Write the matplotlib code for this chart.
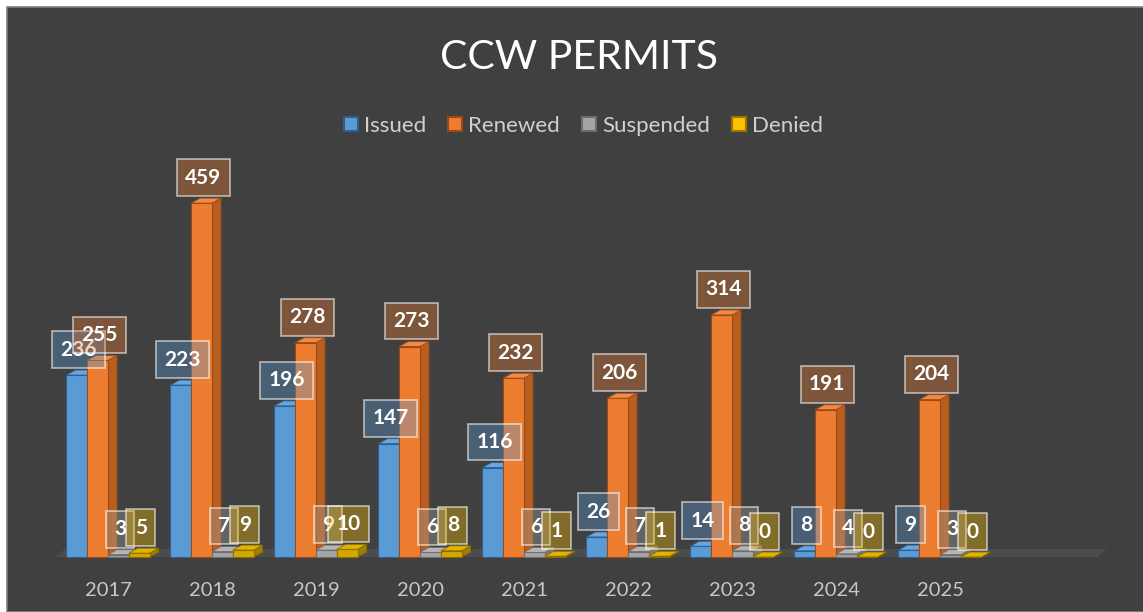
import matplotlib.pyplot as plt
from matplotlib.patches import Rectangle, Polygon, Patch

# ----------- DATA -------------
years = ["2017", "2018", "2019", "2020", "2021", "2022", "2023", "2024", "2025"]
issued = [236, 223, 196, 147, 116, 26, 14, 8, 9]
renewed = [255, 459, 278, 273, 232, 206, 314, 191, 204]
suspended = [3, 7, 9, 6, 6, 7, 8, 4, 3]
denied = [5, 9, 10, 8, 1, 1, 0, 0, 0]
series_names = ["Issued", "Renewed", "Suspended", "Denied"]

# ----------- STYLE -------------
plt.rcParams['font.family'] = ['Lato', 'DejaVu Sans']
BG = "#404040"
front_cols = ["#5B9BD5", "#ED7D31", "#A5A5A5", "#D4A700"]
side_cols = ["#3F75A8", "#B85E20", "#7A7A7A", "#A07E00"]
top_cols = ["#6AA6DD", "#F08A45", "#B5B5B5", "#E0B400"]
edge_cols = ["#2E5F8E", "#9C4A14", "#6E6E6E", "#8A6C00"]
legend_cols = ["#5B9BD5", "#ED7D31", "#A5A5A5", "#FFC000"]
legend_edges = ["#2E5F8E", "#9C4A14", "#6E6E6E", "#9C7600"]

W, H = 1143, 612
fig = plt.figure(figsize=(W / 100, H / 100), dpi=100)
fig.patch.set_facecolor("white")
ax = fig.add_axes([0, 0, 1, 1])
ax.axis("off")

# pixel -> data mapping (group spacing 104 px, 0.771 px per unit)
base_px, step_px, x0_px = 557, 104, 108
ppu = 0.771
ax.set_xlim((0 - x0_px) / step_px, (W - x0_px) / step_px)
ax.set_ylim((base_px - H) / ppu, base_px / ppu)

# chart background with border
ax.add_patch(Rectangle((7 / W, 0), 1.0, 1 - 7 / H, transform=ax.transAxes,
                       facecolor=BG, edgecolor="#7F7F7F", lw=1.2, zorder=0))

# depth of the fake 3D boxes
dx = 9 / step_px
dy = 5 / ppu

# floor
fx0, fx1 = (55 - x0_px) / step_px, (1097 - x0_px) / step_px
fdx, fdy = 10 / step_px, 8 / ppu
ax.add_patch(Polygon([(fx0, 0), (fx1, 0), (fx1 + fdx, fdy), (fx0 + fdx, fdy)],
                     closed=True, facecolor="#4C4C4C", edgecolor="none", zorder=1))

bw = 0.2
all_series = [issued, renewed, suspended, denied]
for j, vals in enumerate(all_series):
    off = -0.3 + 0.2 * j
    for i, v in enumerate(vals):
        xl = i + off - bw / 2
        xr = xl + bw
        z = 2 + j
        # side face
        ax.add_patch(Polygon([(xr, 0), (xr + dx, dy), (xr + dx, v + dy), (xr, v)],
                             closed=True, facecolor=side_cols[j],
                             edgecolor=edge_cols[j], lw=0.6, zorder=z))
        # front face
        ax.add_patch(Rectangle((xl, 0), bw, v, facecolor=front_cols[j],
                               edgecolor=edge_cols[j], lw=0.8, zorder=z))
        # top face
        ax.add_patch(Polygon([(xl, v), (xr, v), (xr + dx, v + dy), (xl + dx, v + dy)],
                             closed=True, facecolor=top_cols[j],
                             edgecolor=edge_cols[j], lw=0.6, zorder=z))

# data labels
for j, vals in enumerate(all_series):
    off = -0.3 + 0.2 * j
    r, g, b = [int(legend_cols[j][k:k + 2], 16) / 255 for k in (1, 3, 5)]
    for i, v in enumerate(vals):
        ax.text(i + off + 0.015, v + 33, str(v), ha="center", va="center",
                fontsize=15, fontweight="bold", color="white", zorder=10 + j,
                bbox=dict(boxstyle="square,pad=0.4", facecolor=(r, g, b, 0.35),
                          edgecolor=(1, 1, 1, 0.6), lw=1.2))

# category labels
for i, yr in enumerate(years):
    ax.text(i, (base_px - 596) / ppu, yr, ha="center", va="baseline",
            fontsize=14.5, color="#C8C8C8", zorder=5)

# title
fig.text(579 / W, 1 - 69 / H, "CCW PERMITS", ha="center", va="baseline",
         fontsize=29.5, color="white")

# legend
handles = [Patch(facecolor=legend_cols[j], edgecolor=legend_edges[j], lw=1.5)
           for j in range(4)]
leg = fig.legend(handles, series_names, loc="center",
                 bbox_to_anchor=(583.5 / W, 1 - 126 / H), ncol=4, frameon=False,
                 fontsize=16, handlelength=0.62, handleheight=0.62,
                 handletextpad=0.27, columnspacing=1.0)
for t in leg.get_texts():
    t.set_color("#D0D0D0")

plt.savefig("out.png", dpi=100)
